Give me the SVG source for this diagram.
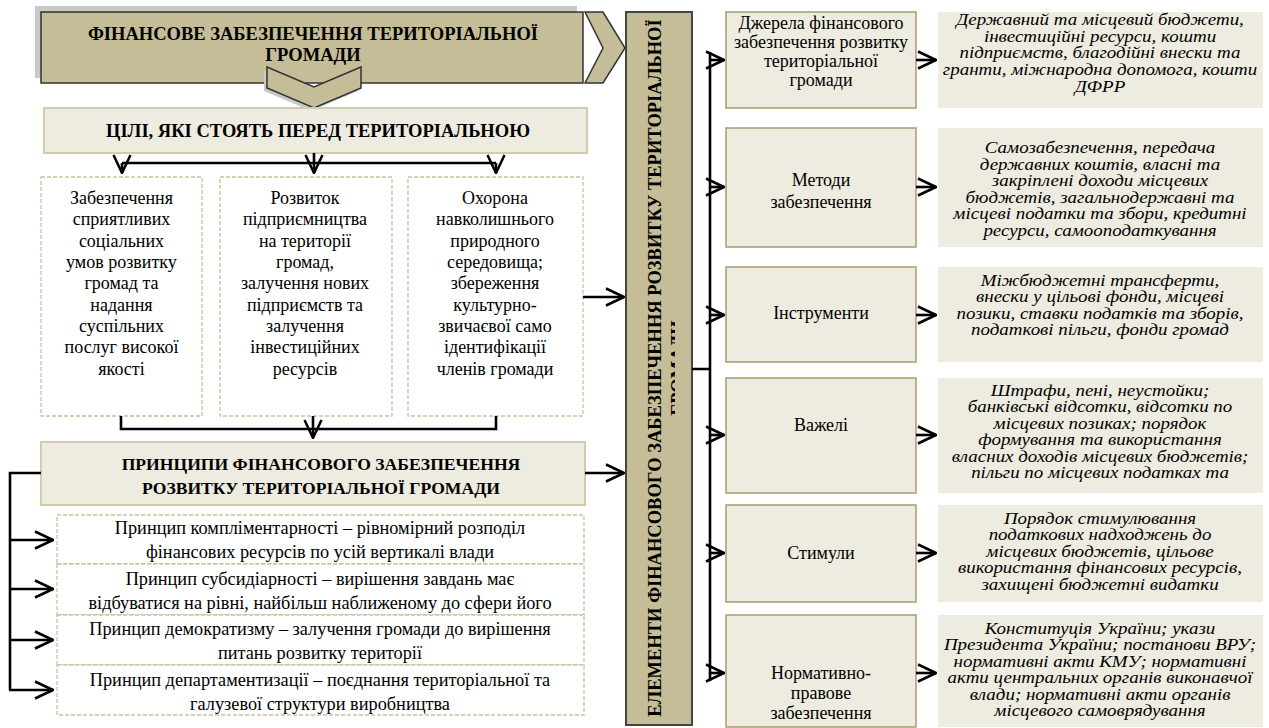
<svg xmlns="http://www.w3.org/2000/svg" width="1269" height="728" viewBox="0 0 1269 728">
<defs>
<marker id="ah" markerUnits="userSpaceOnUse" viewBox="0 0 20 20" refX="19" refY="10" markerWidth="20" markerHeight="20" orient="auto"><path d="M1,1.5 L19,10 L1,18.5" fill="none" stroke="#000" stroke-width="2.5"/></marker>
<clipPath id="barclip"><rect x="626" y="12" width="49" height="713"/></clipPath>
</defs>
<style>
.t{font-family:"Liberation Serif","Times New Roman",serif;fill:#000;text-anchor:middle}
.b{font-weight:bold}
.i{font-style:italic;font-size:16.2px}
.khaki{fill:#c5bd97;stroke:#333;stroke-width:1.5}
.lite{fill:#eeebe0;stroke:#d3cbaa;stroke-width:2}
.dash{fill:#fff;stroke:#c9c29d;stroke-width:1.3;stroke-dasharray:4 2}
.lbl{fill:#eeebe0;stroke:#a69d6c;stroke-width:1.5}
.txtbox{fill:#eeebe0}
.c{fill:none;stroke:#000;stroke-width:2.6}
.ca{fill:none;stroke:#000;stroke-width:2.6;marker-end:url(#ah)}
</style>
<rect width="1269" height="728" fill="#fff"/>

<g id="header">
<rect x="35" y="6" width="542" height="72" fill="#c9c9c9"/>
<rect x="41" y="12" width="542" height="71" class="khaki"/>
<text class="t b" font-size="18.5"><tspan x="313" y="40">ФІНАНСОВЕ ЗАБЕЗПЕЧЕННЯ ТЕРИТОРІАЛЬНОЇ</tspan><tspan x="313" y="61">ГРОМАДИ</tspan></text>
</g>
<g id="chevron-right"><polygon points="585,12 603,12 625,48 603,83 585,83 603,48" class="khaki"/></g>
<g id="chevron-down">
<polygon points="264,70 311,90 358,70 358,91 311,111 264,91" fill="#c9c9c9"/>
<polygon points="267,67 314,87 361,67 361,88 314,108 267,88" class="khaki"/>
</g>

<g id="goals">
<rect x="44" y="108" width="543" height="45" class="lite"/>
<text class="t b" font-size="18.5" x="318" y="137">ЦІЛІ, ЯКІ СТОЯТЬ ПЕРЕД ТЕРИТОРІАЛЬНОЮ</text>
</g>

<g id="goal1">
<rect x="41" y="177" width="161" height="239" class="dash"/>
<text class="t" font-size="18"><tspan x="121.5" y="204">Забезпечення</tspan><tspan x="121.5" y="225">сприятливих</tspan><tspan x="121.5" y="247">соціальних</tspan><tspan x="121.5" y="268">умов розвитку</tspan><tspan x="121.5" y="289">громад та</tspan><tspan x="121.5" y="311">надання</tspan><tspan x="121.5" y="332">суспільних</tspan><tspan x="121.5" y="353">послуг високої</tspan><tspan x="121.5" y="375">якості</tspan></text>
</g>
<g id="goal2">
<rect x="220" y="177" width="172" height="239" class="dash"/>
<text class="t" font-size="18"><tspan x="305" y="204">Розвиток</tspan><tspan x="305" y="225">підприємництва</tspan><tspan x="305" y="247">на території</tspan><tspan x="305" y="268">громад,</tspan><tspan x="305" y="289">залучення нових</tspan><tspan x="305" y="311">підприємств та</tspan><tspan x="305" y="332">залучення</tspan><tspan x="305" y="353">інвестиційних</tspan><tspan x="305" y="375">ресурсів</tspan></text>
</g>
<g id="goal3">
<rect x="408" y="177" width="175" height="239" class="dash"/>
<text class="t" font-size="18"><tspan x="495" y="204">Охорона</tspan><tspan x="495" y="225">навколишнього</tspan><tspan x="495" y="247">природного</tspan><tspan x="495" y="268">середовища;</tspan><tspan x="495" y="289">збереження</tspan><tspan x="495" y="311">культурно-</tspan><tspan x="495" y="332">звичаєвої само</tspan><tspan x="495" y="353">ідентифікації</tspan><tspan x="495" y="375">членів громади</tspan></text>
</g>

<g id="principles">
<rect x="41" y="442" width="544" height="63" class="lite"/>
<text class="t b" font-size="17.6"><tspan x="321" y="470">ПРИНЦИПИ ФІНАНСОВОГО ЗАБЕЗПЕЧЕННЯ</tspan><tspan x="321" y="494">РОЗВИТКУ ТЕРИТОРІАЛЬНОЇ ГРОМАДИ</tspan></text>
</g>
<g id="principle1">
<rect x="57" y="515" width="527" height="49" class="dash"/>
<text class="t" font-size="18.3"><tspan x="320" y="534">Принцип компліментарності – рівномірний розподіл</tspan><tspan x="320" y="558">фінансових ресурсів по усій вертикалі влади</tspan></text>
</g>
<g id="principle2">
<rect x="57" y="564" width="527" height="51" class="dash"/>
<text class="t" font-size="18.3"><tspan x="320" y="585">Принцип субсидіарності – вирішення завдань має</tspan><tspan x="320" y="609">відбуватися на рівні, найбільш наближеному до сфери його</tspan></text>
</g>
<g id="principle3">
<rect x="57" y="615" width="527" height="50" class="dash"/>
<text class="t" font-size="18.3"><tspan x="320" y="635">Принцип демократизму – залучення громади до вирішення</tspan><tspan x="320" y="659">питань розвитку території</tspan></text>
</g>
<g id="principle4">
<rect x="57" y="665" width="527" height="50" class="dash"/>
<text class="t" font-size="18.3"><tspan x="320" y="686">Принцип департаментизації – поєднання територіальної та</tspan><tspan x="320" y="710">галузевої структури виробництва</tspan></text>
</g>

<g id="elements-bar">
<rect x="626" y="12" width="66" height="713" fill="#c5bd97" stroke="#444" stroke-width="2"/>
<text class="t b" font-size="18.5" transform="translate(661,368) rotate(-90)">ЕЛЕМЕНТИ ФІНАНСОВОГО ЗАБЕЗПЕЧЕННЯ РОЗВИТКУ ТЕРИТОРІАЛЬНОЇ</text>
<g clip-path="url(#barclip)"><text class="t b" font-size="18.5" transform="translate(684,368) rotate(-90)">ГРОМАДИ</text></g>
</g>

<g id="label1"><rect x="726" y="12" width="190" height="96" class="lbl"/>
<text class="t" font-size="18"><tspan x="821" y="29">Джерела фінансового</tspan><tspan x="821" y="48">забезпечення розвитку</tspan><tspan x="821" y="67">територіальної</tspan><tspan x="821" y="86">громади</tspan></text></g>
<g id="label2"><rect x="726" y="128" width="190" height="119" class="lbl"/>
<text class="t" font-size="18"><tspan x="821" y="186">Методи</tspan><tspan x="821" y="208">забезпечення</tspan></text></g>
<g id="label3"><rect x="726" y="267" width="190" height="95" class="lbl"/>
<text class="t" font-size="18" x="821" y="319">Інструменти</text></g>
<g id="label4"><rect x="726" y="378" width="190" height="115" class="lbl"/>
<text class="t" font-size="18" x="821" y="431">Важелі</text></g>
<g id="label5"><rect x="726" y="505" width="190" height="97" class="lbl"/>
<text class="t" font-size="18" x="821" y="559">Стимули</text></g>
<g id="label6"><rect x="726" y="615" width="190" height="112" class="lbl"/>
<text class="t" font-size="18"><tspan x="821" y="679">Нормативно-</tspan><tspan x="821" y="699">правове</tspan><tspan x="821" y="719">забезпечення</tspan></text></g>

<g id="desc1"><rect x="938" y="12" width="325" height="96" class="txtbox"/>
<text class="t i" transform="translate(1100,0) scale(1.17,1)"><tspan x="0" y="25">Державний та місцевий бюджети,</tspan><tspan x="0" y="41.8">інвестиційні ресурси, кошти</tspan><tspan x="0" y="58.5">підприємств, благодійні внески та</tspan><tspan x="0" y="75.3">гранти, міжнародна допомога, кошти</tspan><tspan x="0" y="92">ДФРР</tspan></text></g>
<g id="desc2"><rect x="938" y="128" width="325" height="119" class="txtbox"/>
<text class="t i" transform="translate(1100,0) scale(1.17,1)"><tspan x="0" y="153">Самозабезпечення, передача</tspan><tspan x="0" y="169.6">державних коштів, власні та</tspan><tspan x="0" y="186.2">закріплені доходи місцевих</tspan><tspan x="0" y="202.8">бюджетів, загальнодержавні та</tspan><tspan x="0" y="219.4">місцеві податки та збори, кредитні</tspan><tspan x="0" y="236">ресурси, самооподаткування</tspan></text></g>
<g id="desc3"><rect x="938" y="267" width="325" height="95" class="txtbox"/>
<text class="t i" transform="translate(1100,0) scale(1.17,1)"><tspan x="0" y="286">Міжбюджетні трансферти,</tspan><tspan x="0" y="302.5">внески у цільові фонди, місцеві</tspan><tspan x="0" y="319">позики, ставки податків та зборів,</tspan><tspan x="0" y="335.5">податкові пільги, фонди громад</tspan></text></g>
<g id="desc4"><rect x="938" y="378" width="325" height="115" class="txtbox"/>
<text class="t i" transform="translate(1100,0) scale(1.17,1)"><tspan x="0" y="396">Штрафи, пені, неустойки;</tspan><tspan x="0" y="412.5">банківські відсотки, відсотки по</tspan><tspan x="0" y="429">місцевих позиках; порядок</tspan><tspan x="0" y="445.5">формування та використання</tspan><tspan x="0" y="462">власних доходів місцевих бюджетів;</tspan><tspan x="0" y="478.5">пільги по місцевих податках та</tspan></text></g>
<g id="desc5"><rect x="938" y="505" width="325" height="97" class="txtbox"/>
<text class="t i" transform="translate(1100,0) scale(1.17,1)"><tspan x="0" y="524">Порядок стимулювання</tspan><tspan x="0" y="540.5">податкових надходжень до</tspan><tspan x="0" y="557">місцевих бюджетів, цільове</tspan><tspan x="0" y="573.5">використання фінансових ресурсів,</tspan><tspan x="0" y="590">захищені бюджетні видатки</tspan></text></g>
<g id="desc6"><rect x="938" y="615" width="325" height="112" class="txtbox"/>
<text class="t i" transform="translate(1100,0) scale(1.17,1)"><tspan x="0" y="634">Конституція України; укази</tspan><tspan x="0" y="650.5">Президента України; постанови ВРУ;</tspan><tspan x="0" y="667">нормативні акти КМУ; нормативні</tspan><tspan x="0" y="683.5">акти центральних органів виконавчої</tspan><tspan x="0" y="700">влади; нормативні акти органів</tspan><tspan x="0" y="716.5">місцевого самоврядування</tspan></text></g>

<g id="connectors">
<path class="c" d="M314,153 V163 M122,163 H496"/>
<path class="ca" d="M122,163 V173"/>
<path class="ca" d="M314,163 V173"/>
<path class="ca" d="M496,163 V173"/>
<path class="c" d="M121,416 V429 H496 V416"/>
<path class="ca" d="M313,416 V438"/>
<path class="ca" d="M583,297 H624"/>
<path class="ca" d="M585,473 H624"/>
<path class="c" d="M41,473 H10 V690"/>
<path class="ca" d="M10,540 H53"/>
<path class="ca" d="M10,589 H53"/>
<path class="ca" d="M10,640 H53"/>
<path class="ca" d="M9,690 H53"/>
<path class="c" d="M692,369 H710 M710,52 V681"/>
<path class="ca" d="M710,60 H724"/>
<path class="ca" d="M710,187 H724"/>
<path class="ca" d="M710,315 H724"/>
<path class="ca" d="M710,435 H724"/>
<path class="ca" d="M710,553 H724"/>
<path class="ca" d="M710,673 H724"/>
<path class="ca" d="M916,60 H936"/>
<path class="ca" d="M916,187 H936"/>
<path class="ca" d="M916,315 H936"/>
<path class="ca" d="M916,435 H936"/>
<path class="ca" d="M916,553 H936"/>
<path class="ca" d="M916,673 H936"/>
</g>
</svg>
